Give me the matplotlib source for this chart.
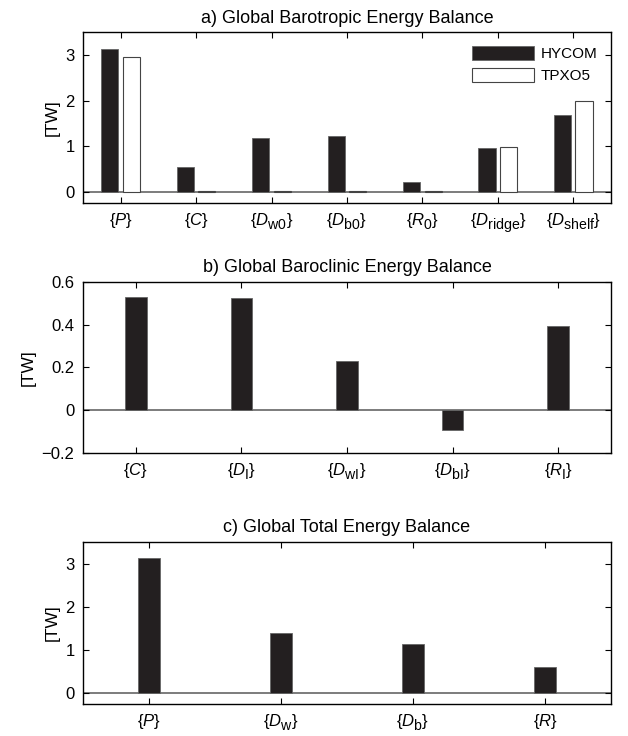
import matplotlib
matplotlib.use('Agg')
import matplotlib.pyplot as plt
import matplotlib._mathtext as mt
import numpy as np

plt.rcParams['font.family'] = ['Liberation Sans', 'DejaVu Sans']
plt.rcParams['mathtext.fontset'] = 'custom'
plt.rcParams['mathtext.rm'] = 'Liberation Sans'
plt.rcParams['mathtext.it'] = 'Liberation Sans:italic'
plt.rcParams['mathtext.bf'] = 'Liberation Sans:bold'
# bigger, lower subscripts like the original figure
mt.SHRINK_FACTOR = 0.85
mt.FontConstantsBase.sub1 = 0.55

# panel a: barotropic
baro_labels = [r'$\{P\}$', r'$\{C\}$', r'$\{D_{\rm w0}\}$', r'$\{D_{\rm b0}\}$',
               r'$\{R_{\rm 0}\}$', r'$\{D_{\rm ridge}\}$', r'$\{D_{\rm shelf}\}$']
baro_hycom = [3.13, 0.54, 1.18, 1.23, 0.22, 0.96, 1.69]
baro_tpxo = [2.96, 0.01, 0.01, 0.01, 0.01, 0.98, 2.00]

# panel b: baroclinic
bc_labels = [r'$\{C\}$', r'$\{D_{\rm I}\}$', r'$\{D_{\rm wI}\}$', r'$\{D_{\rm bI}\}$', r'$\{R_{\rm I}\}$']
bc_hycom = [0.528, 0.525, 0.23, -0.093, 0.391]

# panel c: total
tot_labels = [r'$\{P\}$', r'$\{D_{\rm w}\}$', r'$\{D_{\rm b}\}$', r'$\{R\}$']
tot_hycom = [3.12, 1.39, 1.13, 0.61]

dark = '#231f20'

def style(ax, n, ylim, yticks, labels, title):
    ax.set_xlim(0.5, n + 0.5)
    ax.set_ylim(*ylim)
    ax.set_yticks(yticks)
    ax.set_xticks(np.arange(1, n + 1))
    ax.set_xticklabels(labels, fontsize=12)
    ax.tick_params(direction='in', top=True, right=True, length=4, labelsize=12, pad=6)
    ax.axhline(0, color='#666666', lw=1.2, zorder=1)
    ax.set_ylabel('[TW]', fontsize=12.5)
    ax.set_title(title, fontsize=13, pad=7)
    for s in ax.spines.values():
        s.set_linewidth(1.0)

fig = plt.figure(figsize=(6.28, 7.36), dpi=100)

ax1 = fig.add_axes([0.132, 0.724, 0.841, 0.232])
x = np.arange(1, len(baro_labels) + 1)
w = 0.229
ax1.bar(x - 0.143, baro_hycom, w, color=dark, edgecolor='#666666', lw=0.6, label='HYCOM', zorder=2)
ax1.bar(x + 0.143, baro_tpxo, w, color='white', edgecolor='#444444', lw=0.8, label='TPXO5', zorder=2)
style(ax1, len(baro_labels), (-0.25, 3.5), [0, 1, 2, 3], baro_labels,
      'a) Global Barotropic Energy Balance')
ax1.legend(loc='upper right', frameon=False, fontsize=11, handlelength=4.1, handleheight=1.05,
           borderaxespad=0.5, labelspacing=0.4, handletextpad=0.4)

ax2 = fig.add_axes([0.132, 0.385, 0.841, 0.232])
x = np.arange(1, len(bc_labels) + 1)
ax2.bar(x, bc_hycom, 0.205, color=dark, edgecolor='#666666', lw=0.6, zorder=2)
style(ax2, len(bc_labels), (-0.2, 0.6), [-0.2, 0, 0.2, 0.4, 0.6], bc_labels,
      'b) Global Baroclinic Energy Balance')
ax2.set_yticklabels(['\u22120.2', '0', '0.2', '0.4', '0.6'])

ax3 = fig.add_axes([0.132, 0.0435, 0.841, 0.220])
x = np.arange(1, len(tot_labels) + 1)
ax3.bar(x, tot_hycom, 0.164, color=dark, edgecolor='#666666', lw=0.6, zorder=2)
style(ax3, len(tot_labels), (-0.25, 3.5), [0, 1, 2, 3], tot_labels,
      'c) Global Total Energy Balance')

fig.savefig('out.png', dpi=100)
